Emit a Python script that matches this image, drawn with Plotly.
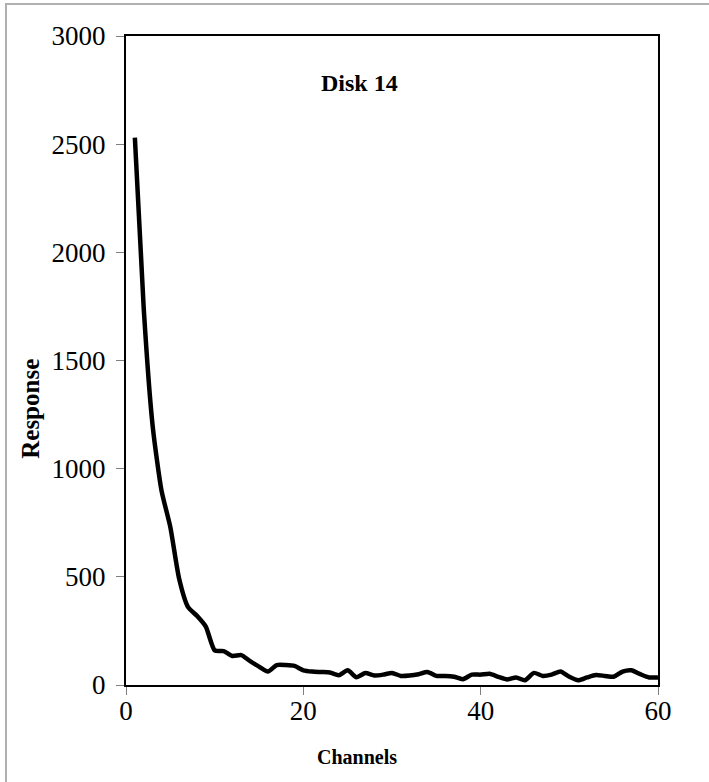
import plotly.graph_objects as go

channels = list(range(1, 61))
response = [2530, 1740, 1200, 900, 730, 490, 360, 320, 270, 160,
            157, 134, 138, 110, 85, 62, 92, 92, 88, 68,
            62, 60, 58, 45, 68, 36, 55, 44, 48, 56,
            42, 44, 50, 60, 42, 42, 38, 27, 48, 48,
            52, 38, 26, 35, 22, 56, 42, 48, 62, 38,
            22, 35, 46, 42, 38, 62, 68, 50, 35, 35]

x_ticks = [0, 20, 40, 60]
y_ticks = [0, 500, 1000, 1500, 2000, 2500, 3000]

FONT = "Liberation Serif"

fig = go.Figure()
fig.add_trace(go.Scatter(
    x=channels, y=response, mode="lines",
    line=dict(color="black", width=4.5, shape="spline", smoothing=0.6),
    showlegend=False, hoverinfo="x+y",
))

axis_common = dict(
    showgrid=False, zeroline=False,
    showline=True, linecolor="black", linewidth=2, mirror=True,
    ticks="outside", ticklen=8, tickwidth=1, tickcolor="#808080",
    tickfont=dict(family=FONT, size=27, color="black"),
)

fig.update_layout(
    width=709, height=782,
    margin=dict(l=126, r=51, t=36, b=97),
    paper_bgcolor="white", plot_bgcolor="white",
    xaxis=dict(range=[0, 60], tickvals=x_ticks, ticklabelstandoff=-7, **axis_common),
    yaxis=dict(range=[0, 3000], tickvals=y_ticks, ticklabelstandoff=5, **axis_common),
    annotations=[
        dict(text="<b>Disk 14</b>", xref="paper", yref="paper",
             x=0.438, y=0.928, showarrow=False,
             font=dict(family=FONT, size=24, color="black"),
             xanchor="center", yanchor="middle"),
        dict(text="<b>Channels</b>", xref="paper", yref="paper",
             x=0.434, y=-0.111, showarrow=False,
             font=dict(family=FONT, size=20, color="black"),
             xanchor="center", yanchor="middle"),
        dict(text="<b>Response</b>", xref="paper", yref="paper",
             x=-0.180, y=0.426, showarrow=False, textangle=-90,
             font=dict(family=FONT, size=25, color="black"),
             xanchor="center", yanchor="middle"),
    ],
    shapes=[dict(
        type="rect", xref="paper", yref="paper",
        x0=-0.2256, x1=1.5, y0=-0.5, y1=1.0493,
        line=dict(color="#b0b0b0", width=2), fillcolor="rgba(0,0,0,0)",
        layer="below",
    )],
)

fig.write_html("out.html", config={"displayModeBar": False},
               post_script="document.body.style.margin='0';")
